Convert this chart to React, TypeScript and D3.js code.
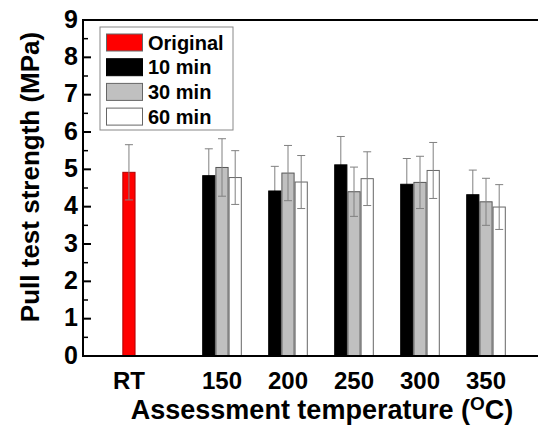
import React from 'react';
import * as d3 from 'd3';

const TEMPS = ['150', '200', '250', '300', '350'];
const SERIES = ['10 min', '30 min', '60 min'];

const RT_VALUE = 4.92;
const RT_ERR = 0.74;

const MIN10 = [4.83, 4.42, 5.12, 4.60, 4.32];
const MIN10_ERR = [0.72, 0.66, 0.76, 0.69, 0.66];
const MIN30 = [5.05, 4.90, 4.40, 4.65, 4.13];
const MIN30_ERR = [0.77, 0.74, 0.66, 0.70, 0.63];
const MIN60 = [4.78, 4.66, 4.75, 4.97, 3.99];
const MIN60_ERR = [0.72, 0.71, 0.72, 0.75, 0.60];

const Y_TICKS = [0, 1, 2, 3, 4, 5, 6, 7, 8, 9];

const W = 538;
const H = 425;
const FONT = 'Liberation Sans, Arial, sans-serif';

const FILLS = ['#000000', '#c0c0c0', '#ffffff'];
const STROKES = ['#000000', '#555555', '#666666'];

export default function App() {
  const left = 83;
  const top = 20;
  const bottom = 356;

  const y = d3.scaleLinear().domain([0, 9]).range([bottom, top]);
  const groups = d3.scalePoint().domain(TEMPS).range([222, 486]);
  const step = groups.step();
  const bw = step * 0.2;
  const rtX = (groups(TEMPS[0]) as number) - step * 1.41;

  const values = [MIN10, MIN30, MIN60];
  const errs = [MIN10_ERR, MIN30_ERR, MIN60_ERR];

  const errBar = (cx: number, v: number, e: number, key: string) => (
    <g key={key} stroke="#808080" strokeWidth={1}>
      <line x1={cx} x2={cx} y1={y(v + e)} y2={y(v - e)} />
      <line x1={cx - 4} x2={cx + 4} y1={y(v + e)} y2={y(v + e)} />
      <line x1={cx - 4} x2={cx + 4} y1={y(v - e)} y2={y(v - e)} />
    </g>
  );

  const bars: React.ReactNode[] = [];
  TEMPS.forEach((t, i) => {
    const c = groups(t) as number;
    SERIES.forEach((s, j) => {
      const x0 = c + (j - 1.5) * bw;
      const v = values[j][i];
      const e = errs[j][i];
      const rect = (
        <rect
          key={'b' + i + j}
          x={x0 + 0.5}
          y={y(v)}
          width={bw - 1}
          height={y(0) - y(v)}
          fill={FILLS[j]}
          stroke={STROKES[j]}
          strokeWidth={1}
        />
      );
      // black bars hide the lower whisker
      if (j === 0) {
        bars.push(errBar(x0 + bw / 2, v, e, 'e' + i + j));
        bars.push(rect);
      } else {
        bars.push(rect);
        bars.push(errBar(x0 + bw / 2, v, e, 'e' + i + j));
      }
    });
  });

  const minor = d3.range(0.5, 9, 1);

  const legendItems = [
    { label: 'Original', fill: '#ff0000', stroke: '#b00000' },
    { label: SERIES[0], fill: FILLS[0], stroke: STROKES[0] },
    { label: SERIES[1], fill: FILLS[1], stroke: STROKES[1] },
    { label: SERIES[2], fill: FILLS[2], stroke: STROKES[2] },
  ];

  return (
    <svg
      width={W}
      height={H}
      style={{ position: 'absolute', left: 0, top: 0, background: '#fff' }}
      fontFamily={FONT}
      fontWeight="bold"
    >
      {/* RT bar */}
      <rect
        x={rtX - bw / 2 + 0.5}
        y={y(RT_VALUE)}
        width={bw - 1}
        height={y(0) - y(RT_VALUE)}
        fill="#ff0000"
        stroke="#b00000"
        strokeWidth={1}
      />
      {errBar(rtX, RT_VALUE, RT_ERR, 'rt')}
      {bars}

      {/* frame */}
      <line x1={left} x2={W} y1={top} y2={top} stroke="#000" strokeWidth={2} />
      <line x1={left} x2={W} y1={bottom} y2={bottom} stroke="#000" strokeWidth={2} />
      <line x1={left} x2={left} y1={top - 1} y2={bottom + 1} stroke="#000" strokeWidth={2} />

      {Y_TICKS.map(t => (
        <g key={'yt' + t}>
          <line x1={left} x2={left + 8} y1={y(t)} y2={y(t)} stroke="#000" strokeWidth={2} />
          <text x={78} y={y(t) + 7.5} textAnchor="end" fontSize={25}>{t}</text>
        </g>
      ))}
      {minor.map(t => (
        <line key={'mt' + t} x1={left} x2={left + 5} y1={y(t)} y2={y(t)} stroke="#000" strokeWidth={1.5} />
      ))}

      <text x={rtX} y={389} textAnchor="middle" fontSize={24}>RT</text>
      {TEMPS.map(t => (
        <text key={'xl' + t} x={groups(t)} y={389} textAnchor="middle" fontSize={24}>{t}</text>
      ))}

      <text x={322} y={419} textAnchor="middle" fontSize={27}>
        Assessment temperature (<tspan fontSize={19} dy={-9}>O</tspan><tspan dy={9}>C)</tspan>
      </text>

      <text
        transform={`translate(39, 177) rotate(-90)`}
        textAnchor="middle"
        fontSize={26}
      >
        Pull test strength (MPa)
      </text>

      {/* legend */}
      <rect x={100} y={27} width={133} height={103} fill="#fff" stroke="#888" strokeWidth={1} />
      {legendItems.map((d, i) => {
        const cy = 42.5 + i * 24.7;
        return (
          <g key={'lg' + i}>
            <rect x={106.5} y={cy - 8.5} width={36} height={17} fill={d.fill} stroke={d.stroke === '#000000' ? '#000' : '#666'} strokeWidth={1} />
            <text x={148} y={cy + 7} fontSize={20}>{d.label}</text>
          </g>
        );
      })}
    </svg>
  );
}
